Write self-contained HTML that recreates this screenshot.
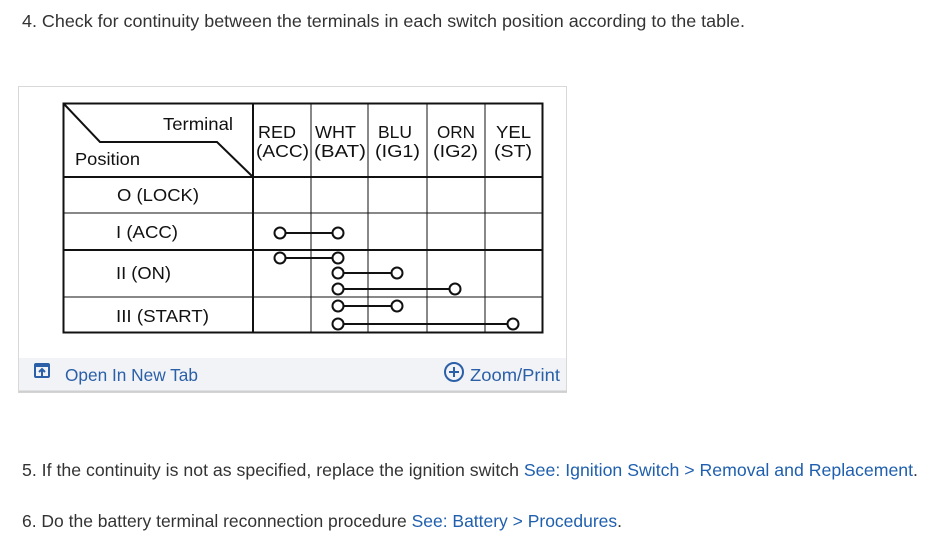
<!DOCTYPE html>
<html><head><style>
body{margin:0;background:#fff;}
svg{display:block;}
text{font-family:"Liberation Sans",sans-serif;}
</style></head><body>
<svg width="931" height="545" viewBox="0 0 931 545" xmlns="http://www.w3.org/2000/svg">
<rect width="931" height="545" fill="#fff"/>
<text x="22" y="27" font-size="17.5" fill="#333" textLength="723" lengthAdjust="spacingAndGlyphs">4. Check for continuity between the terminals in each switch position according to the table.</text>

<rect x="18.5" y="86.5" width="548" height="306" fill="#fff" stroke="#d8d8d8"/>
<rect x="19" y="358" width="547" height="34" fill="#f1f3f6"/>
<line x1="19" y1="391.5" x2="567" y2="391.5" stroke="#cfcfcf" stroke-width="2"/>

<g stroke="#111" fill="none">
<rect x="63.5" y="103.5" width="479" height="229" stroke-width="2"/>
<line x1="253" y1="103" x2="253" y2="333" stroke-width="2"/>
<line x1="311" y1="103" x2="311" y2="333" stroke-width="1"/>
<line x1="368" y1="103" x2="368" y2="333" stroke-width="1"/>
<line x1="427" y1="103" x2="427" y2="333" stroke-width="1"/>
<line x1="485" y1="103" x2="485" y2="333" stroke-width="1"/>
<line x1="63" y1="177" x2="543" y2="177" stroke-width="2"/>
<line x1="63" y1="213" x2="543" y2="213" stroke-width="1"/>
<line x1="63" y1="250" x2="543" y2="250" stroke-width="2"/>
<line x1="63" y1="297" x2="543" y2="297" stroke-width="1"/>
<polyline points="64,104 100,142 217,142 253,177" stroke-width="2"/>
</g>
<g font-size="17.5" fill="#111">
<text x="163" y="130" textLength="70" lengthAdjust="spacingAndGlyphs">Terminal</text>
<text x="75" y="165" textLength="65" lengthAdjust="spacingAndGlyphs">Position</text>
<text x="258" y="138" textLength="38" lengthAdjust="spacingAndGlyphs">RED</text><text x="256" y="157" textLength="53" lengthAdjust="spacingAndGlyphs">(ACC)</text>
<text x="315" y="138" textLength="41" lengthAdjust="spacingAndGlyphs">WHT</text><text x="314" y="157" textLength="52" lengthAdjust="spacingAndGlyphs">(BAT)</text>
<text x="378" y="138" textLength="34" lengthAdjust="spacingAndGlyphs">BLU</text><text x="375" y="157" textLength="45" lengthAdjust="spacingAndGlyphs">(IG1)</text>
<text x="437" y="138" textLength="38" lengthAdjust="spacingAndGlyphs">ORN</text><text x="433" y="157" textLength="45" lengthAdjust="spacingAndGlyphs">(IG2)</text>
<text x="496" y="138" textLength="35" lengthAdjust="spacingAndGlyphs">YEL</text><text x="494" y="157" textLength="38" lengthAdjust="spacingAndGlyphs">(ST)</text>
<text x="117" y="201" textLength="82" lengthAdjust="spacingAndGlyphs">O (LOCK)</text>
<text x="116" y="238" textLength="62" lengthAdjust="spacingAndGlyphs">I (ACC)</text>
<text x="116" y="279" textLength="55" lengthAdjust="spacingAndGlyphs">II (ON)</text>
<text x="116" y="322" textLength="93" lengthAdjust="spacingAndGlyphs">III (START)</text>
</g>
<g stroke="#111" stroke-width="2" fill="#fff">
<line x1="280" y1="233" x2="338" y2="233"/>
<line x1="280" y1="258" x2="338" y2="258"/>
<line x1="338" y1="273" x2="397" y2="273"/>
<line x1="338" y1="289" x2="455" y2="289"/>
<line x1="338" y1="306" x2="397" y2="306"/>
<line x1="338" y1="324" x2="513" y2="324"/>
<circle cx="280" cy="233" r="5.5"/><circle cx="338" cy="233" r="5.5"/>
<circle cx="280" cy="258" r="5.5"/><circle cx="338" cy="258" r="5.5"/>
<circle cx="338" cy="273" r="5.5"/><circle cx="397" cy="273" r="5.5"/>
<circle cx="338" cy="289" r="5.5"/><circle cx="455" cy="289" r="5.5"/>
<circle cx="338" cy="306" r="5.5"/><circle cx="397" cy="306" r="5.5"/>
<circle cx="338" cy="324" r="5.5"/><circle cx="513" cy="324" r="5.5"/>
</g>

<g stroke="#2b5fa8" fill="none" stroke-width="2">
<rect x="35" y="364" width="14" height="13" rx="1"/>
<line x1="35" y1="366" x2="49" y2="366"/>
<polyline points="39,372 42,369 45,372"/>
<line x1="42" y1="369" x2="42" y2="376"/>
<circle cx="454" cy="372" r="9"/>
<line x1="449" y1="372" x2="459" y2="372"/>
<line x1="454" y1="367" x2="454" y2="377"/>
</g>
<text x="65" y="381" font-size="17.5" fill="#2b5fa8" textLength="133" lengthAdjust="spacingAndGlyphs">Open In New Tab</text>
<text x="470" y="381" font-size="17.5" fill="#2b5fa8" textLength="90" lengthAdjust="spacingAndGlyphs">Zoom/Print</text>

<text x="22" y="476" font-size="17.5" fill="#333" textLength="896" lengthAdjust="spacingAndGlyphs">5. If the continuity is not as specified, replace the ignition switch <tspan fill="#1f5fae">See: Ignition Switch &gt; Removal and Replacement</tspan>.</text>
<text x="22" y="527" font-size="17.5" fill="#333" textLength="600" lengthAdjust="spacingAndGlyphs">6. Do the battery terminal reconnection procedure <tspan fill="#1f5fae">See: Battery &gt; Procedures</tspan>.</text>
</svg>
</body></html>
